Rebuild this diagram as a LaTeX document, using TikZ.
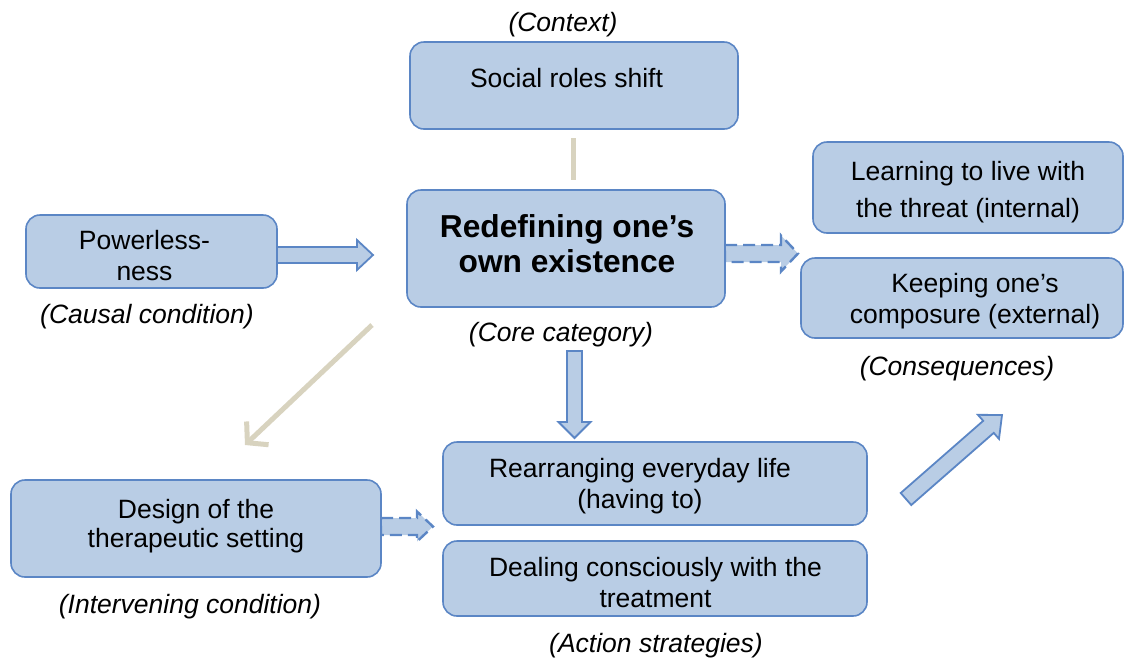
\documentclass[tikz,border=0pt]{standalone}
\usepackage{fontspec}
\setmainfont{Liberation Sans}
\usetikzlibrary{calc,arrows.meta}
\definecolor{boxfill}{HTML}{B9CDE5}
\definecolor{boxdraw}{HTML}{5B86C5}
\definecolor{beige}{HTML}{D8D3BF}
\tikzset{
 box/.style={draw=boxdraw, line width=1.6pt, fill=boxfill, rounded corners=14pt, inner sep=0pt},
 btxt/.style={align=center, font=\fontsize{26.5}{33}\selectfont, inner sep=0pt},
 coretxt/.style={btxt, font=\fontsize{31.7}{35}\selectfont\bfseries},
 lbl/.style={font=\fontsize{26.5}{30}\selectfont\itshape, inner sep=0pt},
 barr/.style={draw=boxdraw, line width=1.8pt, fill=boxfill, line join=miter},
 dbarr/.style={barr, line width=2.4pt, dash pattern=on 12pt off 6pt},
 beigeline/.style={draw=beige, line width=5pt},
}
\newcommand\blockarr[6]{%
 \coordinate (hb) at ($(#3)!#6!(#2)$);
 \draw[#1] ($(#2)!#4!90:(#3)$) -- ($(hb)!#4!90:(#3)$) -- ($(hb)!#5!90:(#3)$) -- (#3)
   -- ($(hb)!#5!-90:(#3)$) -- ($(hb)!#4!-90:(#3)$) -- ($(#2)!#4!-90:(#3)$) -- cycle;
}
\begin{document}
\begin{tikzpicture}[x=1pt,y=-1pt]
\useasboundingbox (0,0) rectangle (1129,657);
% arrow coordinates
\coordinate (p1s) at (277,255);
\coordinate (p1e) at (373,255);
\coordinate (p2s) at (725,253.5);
\coordinate (p2e) at (798,253.5);
\coordinate (p3s) at (381,526.5);
\coordinate (p3e) at (433,526.5);
\coordinate (p4s) at (574.5,351);
\coordinate (p4e) at (574.5,438);
\coordinate (p5s) at (906,499);
\coordinate (p5e) at (1002,415);
\coordinate (b1s) at (573,138);
\coordinate (b1e) at (573,180);
\coordinate (b2s) at (372,325);
\coordinate (b2e) at (245,445);
% block arrows
\blockarr{barr}{p1s}{p1e}{8pt}{15pt}{16pt}
\blockarr{dbarr}{p2s}{p2e}{8.5pt}{18pt}{17pt}
\blockarr{dbarr}{p3s}{p3e}{8.5pt}{15pt}{16pt}
\blockarr{barr}{p4s}{p4e}{7.5pt}{16pt}{16pt}
\blockarr{barr}{p5s}{p5e}{8pt}{16pt}{18pt}
% beige connectors
\draw[beigeline] (b1s) -- (b1e);
\draw[beigeline, -{Straight Barb[length=14pt,width=32pt]}] (b2s) -- (b2e);
% boxes
\node[box, minimum width=328, minimum height=87] (social) at (574,85.5) {};
\node[box, minimum width=318, minimum height=117] (core) at (566,248.5) {};
\node[box, minimum width=251, minimum height=73] (power) at (151.5,251.5) {};
\node[box, minimum width=310, minimum height=91] (learn) at (968,187.5) {};
\node[box, minimum width=322, minimum height=80] (keep) at (962,298) {};
\node[box, minimum width=424, minimum height=83] (rearr) at (655,483.5) {};
\node[box, minimum width=424, minimum height=75] (deal) at (655,578.5) {};
\node[box, minimum width=370, minimum height=97] (design) at (196,528.5) {};
% box texts
\node[btxt] (socialt) at (566.5,78) {Social roles shift};
\node[coretxt] (coret) at (567,244) {Redefining one’s\\own existence};
\node[btxt] (powert) at (144.5,255.5) {Powerless-\\[-2pt]ness};
\node[btxt] (learnt) at (968,192.5) {Learning to live with\\[4pt]the threat (internal)};
\node[btxt] (keept) at (975,301) {Keeping one’s\\[-2pt]composure (external)};
\node[btxt] (rearrt) at (640,486.5) {Rearranging everyday life\\[-2pt](having to)};
\node[btxt] (dealt) at (655.5,582.5) {Dealing consciously with the\\[-2pt]treatment};
\node[btxt] (designt) at (196,526) {Design of the\\[-4pt]therapeutic setting};
% labels
\node[lbl] (lctx) at (563,25) {(Context)};
\node[lbl] (lcore) at (561,335) {(Core category)};
\node[lbl] (lcaus) at (147,317) {(Causal condition)};
\node[lbl] (lcons) at (957,369) {(Consequences)};
\node[lbl] (linter) at (190,607) {(Intervening condition)};
\node[lbl] (lact) at (656,646) {(Action strategies)};
\end{tikzpicture}
\end{document}
